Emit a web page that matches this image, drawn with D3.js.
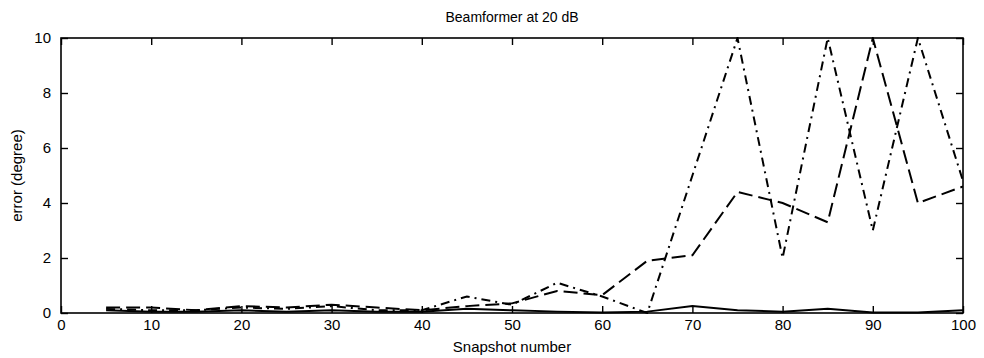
<!DOCTYPE html>
<html>
<head>
<meta charset="utf-8">
<script src="https://cdn.jsdelivr.net/npm/d3@7"></script>
<style>
  body { margin: 0; background: #fff; }
  svg text { font-family: "Liberation Sans", Arial, Helvetica, sans-serif; fill: #000; }
</style>
</head>
<body>
<svg id="chart" width="984" height="358"></svg>
<script>
// Snapshot counts on the x axis
const snapshots = [5, 10, 15, 20, 25, 30, 35, 40, 45, 50, 55, 60, 65, 70, 75, 80, 85, 90, 95, 100];

// Estimation error (degrees) for three runs
const solidErr   = [0.10, 0.05, 0.05, 0.10, 0.05, 0.10, 0.05, 0.05, 0.15, 0.10, 0.05, 0.02, 0.05, 0.25, 0.10, 0.05, 0.15, 0.02, 0.02, 0.10];
const dashedErr  = [0.20, 0.20, 0.10, 0.25, 0.20, 0.30, 0.20, 0.10, 0.25, 0.35, 0.80, 0.65, 1.90, 2.10, 4.40, 4.00, 3.30, 10.0, 4.00, 4.60];
const dashDotErr = [0.15, 0.10, 0.10, 0.20, 0.15, 0.25, 0.10, 0.10, 0.60, 0.30, 1.10, 0.60, 0.00, 5.00, 10.0, 2.00, 10.0, 3.00, 10.0, 4.80];

const xTicks = [0, 10, 20, 30, 40, 50, 60, 70, 80, 90, 100];
const yTicks = [0, 2, 4, 6, 8, 10];

const titleText = "Beamformer at 20 dB";
const xLabel = "Snapshot number";
const yLabel = "error (degree)";

const W = 984, H = 358;
const margin = { top: 38, right: 21, bottom: 45, left: 61 };
const iw = W - margin.left - margin.right;
const ih = H - margin.top - margin.bottom;

const svg = d3.select("#chart");
const g = svg.append("g").attr("transform", `translate(${margin.left},${margin.top})`);

const x = d3.scaleLinear().domain([0, 100]).range([0, iw]);
const y = d3.scaleLinear().domain([0, 10]).range([ih, 0]);

g.append("clipPath").attr("id", "plotClip")
  .append("rect").attr("x", 0).attr("y", -1).attr("width", iw).attr("height", ih + 2);

const tickLen = 7;

// Bottom axis with labels, inward ticks
const xAxis = g.append("g").attr("transform", `translate(0,${ih})`)
  .call(d3.axisBottom(x).tickValues(xTicks).tickSizeInner(-tickLen).tickSizeOuter(0).tickPadding(6));
// Top axis, ticks only
const xTop = g.append("g")
  .call(d3.axisTop(x).tickValues(xTicks).tickSizeInner(-tickLen).tickSizeOuter(0).tickFormat(""));
// Left axis with labels
const yAxis = g.append("g")
  .call(d3.axisLeft(y).tickValues(yTicks).tickSizeInner(-tickLen).tickSizeOuter(0).tickPadding(10));
// Right axis, ticks only
const yRight = g.append("g").attr("transform", `translate(${iw},0)`)
  .call(d3.axisRight(y).tickValues(yTicks).tickSizeInner(-tickLen).tickSizeOuter(0).tickFormat(""));

[xAxis, xTop, yAxis, yRight].forEach(a => {
  a.select(".domain").remove();
  a.selectAll(".tick line").attr("stroke", "#000").attr("stroke-width", 1.4);
  a.selectAll(".tick text").attr("font-size", 15).attr("fill", "#000");
});
// Bottom labels sit just below the frame (ticks point inward)
xAxis.selectAll(".tick text").attr("y", 6).attr("dy", "0.71em");

// Frame
g.append("rect").attr("x", 0).attr("y", 0).attr("width", iw).attr("height", ih)
  .attr("fill", "none").attr("stroke", "#000").attr("stroke-width", 1.6);

// Series lines
const series = [
  { values: solidErr,   dash: null },
  { values: dashedErr,  dash: "14,6" },
  { values: dashDotErr, dash: "9,5,2,5" }
];

const line = d3.line().x(d => x(d[0])).y(d => y(d[1]));

const plot = g.append("g").attr("clip-path", "url(#plotClip)");
series.forEach(s => {
  plot.append("path")
    .datum(snapshots.map((sn, i) => [sn, s.values[i]]))
    .attr("d", line)
    .attr("fill", "none")
    .attr("stroke", "#000")
    .attr("stroke-width", 2)
    .attr("stroke-linejoin", "miter")
    .attr("stroke-dasharray", s.dash);
});

// Title and axis labels
svg.append("text").attr("x", margin.left + iw / 2).attr("y", 22)
  .attr("text-anchor", "middle").attr("font-size", 14).text(titleText);
svg.append("text").attr("x", margin.left + iw / 2).attr("y", 352)
  .attr("text-anchor", "middle").attr("font-size", 15).text(xLabel);
svg.append("text")
  .attr("transform", `translate(22,${margin.top + ih / 2}) rotate(-90)`)
  .attr("text-anchor", "middle").attr("font-size", 15).text(yLabel);
</script>
</body>
</html>
